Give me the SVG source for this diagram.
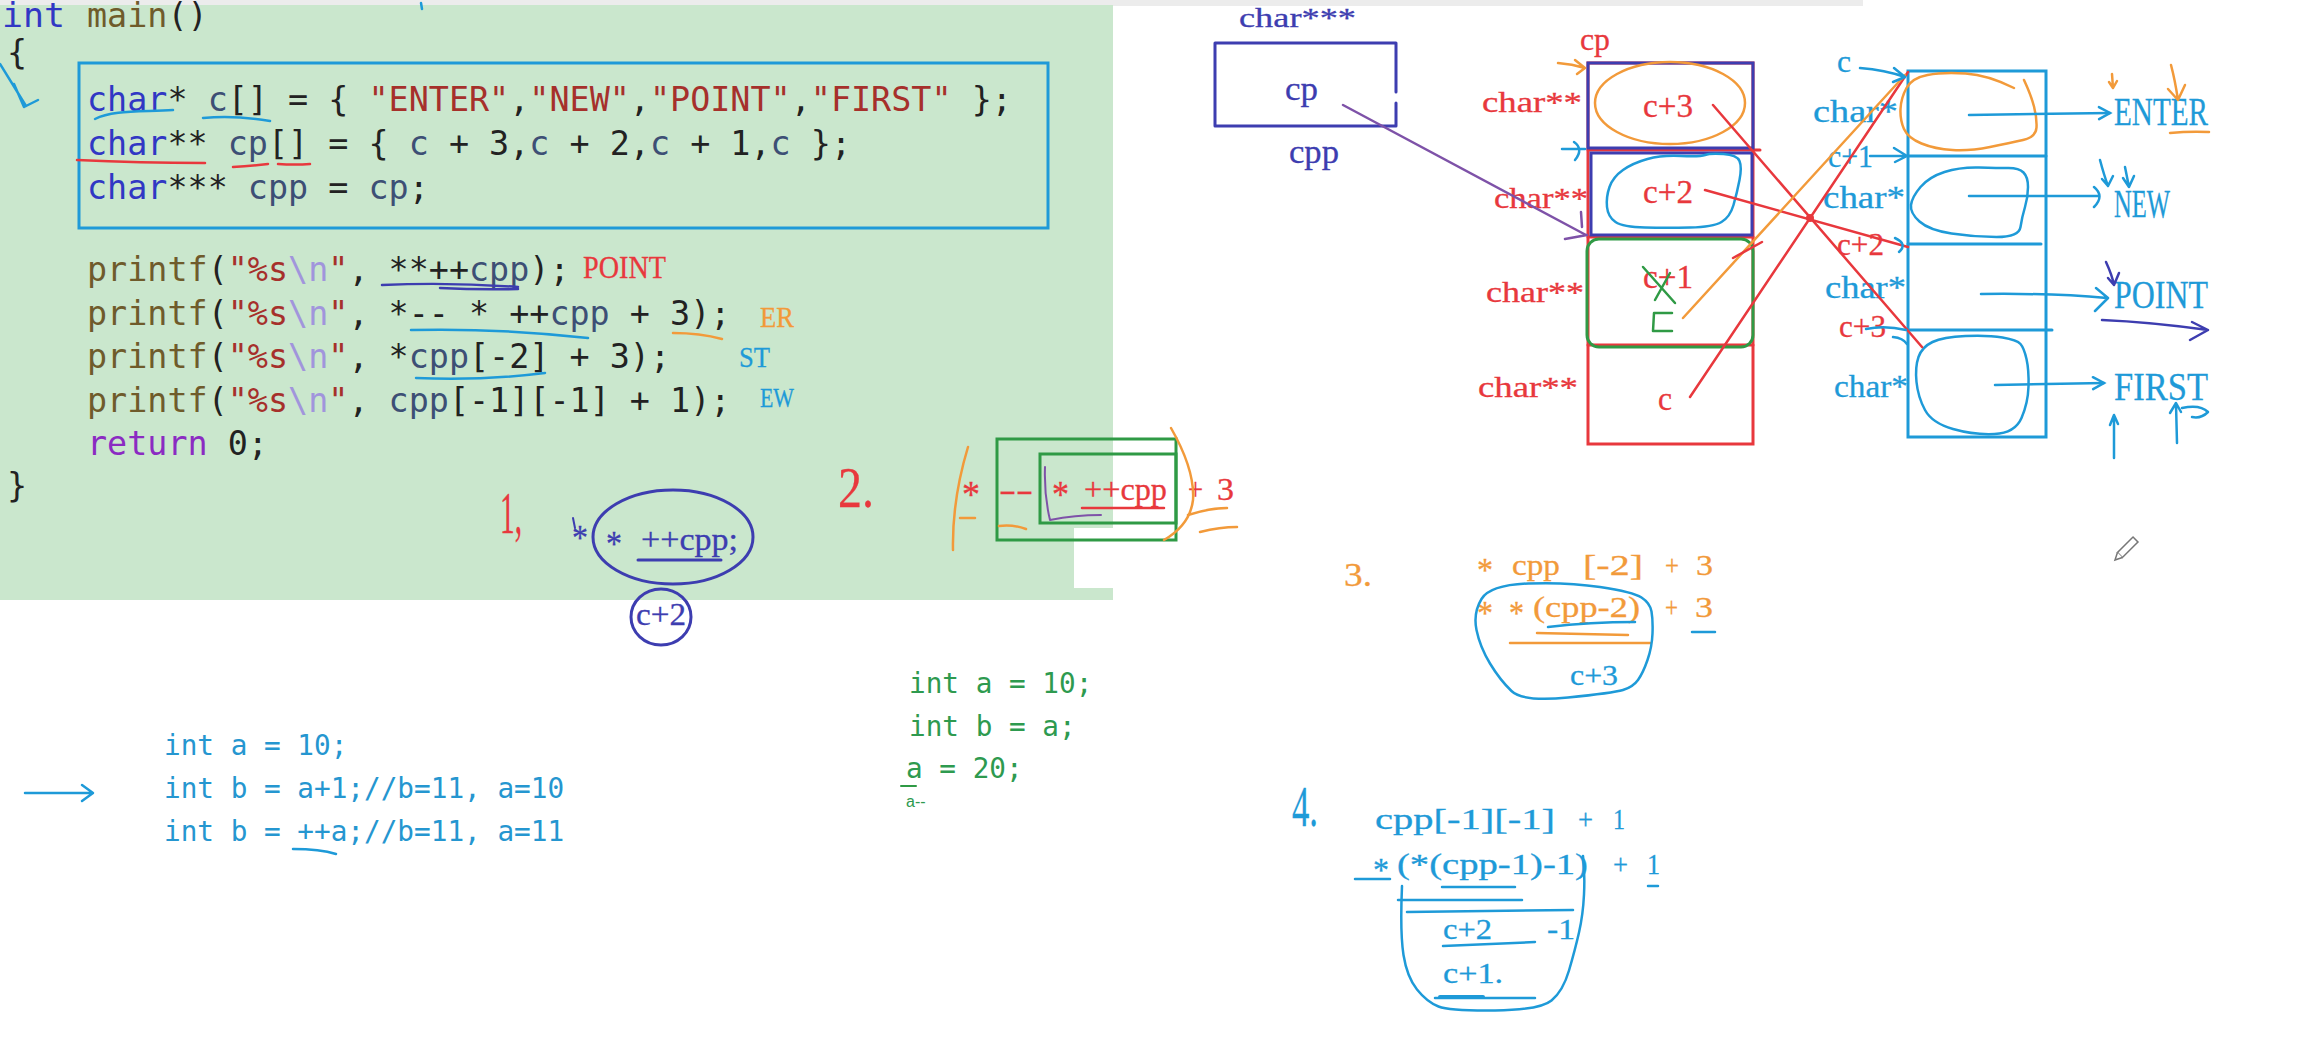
<svg xmlns="http://www.w3.org/2000/svg" width="2323" height="1042" viewBox="0 0 2323 1042">
<style>
.code{font-family:"DejaVu Sans Mono","Liberation Mono",monospace;font-size:33.4px;fill:#222}
.kw{fill:#3137c4}.fn{fill:#6f5b2b}.id{fill:#3d4f75}.st{fill:#a6302b}.esc{fill:#a195dc}.ret{fill:#8b2bc2}
.m2{font-family:"DejaVu Sans Mono","Liberation Mono",monospace;font-size:27.7px}
.hw{font-family:"Liberation Serif","Noto Sans CJK SC",serif;stroke-width:0.3px}
.ink{fill:none;stroke-linecap:round;stroke-linejoin:round}
.r{fill:#e8383d;stroke:#e8383d}.o{fill:#f29a3a;stroke:#f29a3a}.b{fill:#1e9ad8;stroke:#1e9ad8}.p{fill:#3d3db0;stroke:#3d3db0}.g{fill:#2e9a4f}
.sr{stroke:#e8383d}.so{stroke:#f29a3a}.sb{stroke:#1e9ad8}.sp{stroke:#3d3db0}.sg{stroke:#2f9a45}.sm{stroke:#7e52a8}
</style>
<defs>
<marker id="hb" markerUnits="userSpaceOnUse" markerWidth="18" markerHeight="18" refX="14" refY="8" orient="auto"><path d="M3,2 L14,8 L3,14" fill="none" stroke="#1e9ad8" stroke-width="2.5" stroke-linecap="round"/></marker>
</defs>
<rect width="2323" height="1042" fill="#ffffff"/>
<rect x="0" y="0" width="1863" height="6" fill="#ececec"/>
<g id="code-panel">
<rect x="0" y="5" width="1113" height="595" fill="#cae7cd"/>
<rect x="1074" y="528" width="39" height="60" fill="#ffffff"/>
<text class="code" x="2" y="27" textLength="63" lengthAdjust="spacingAndGlyphs"><tspan class="kw">int</tspan></text>
<text class="code" x="87" y="27" xml:space="preserve"><tspan class="fn">main</tspan>()</text>
<text class="code" x="7" y="64">{</text>
<rect x="79" y="63" width="969" height="165" fill="none" stroke="#1e9ad8" stroke-width="3"/>
<text class="code" x="87" y="111" xml:space="preserve"><tspan class="kw">char</tspan>* <tspan class="id">c</tspan>[] = { <tspan class="st">"ENTER"</tspan>,<tspan class="st">"NEW"</tspan>,<tspan class="st">"POINT"</tspan>,<tspan class="st">"FIRST"</tspan> };</text>
<text class="code" x="87" y="155" xml:space="preserve"><tspan class="kw">char</tspan>** <tspan class="id">cp</tspan>[] = { <tspan class="id">c</tspan> + 3,<tspan class="id">c</tspan> + 2,<tspan class="id">c</tspan> + 1,<tspan class="id">c</tspan> };</text>
<text class="code" x="87" y="199" xml:space="preserve"><tspan class="kw">char</tspan>*** <tspan class="id">cpp</tspan> = <tspan class="id">cp</tspan>;</text>
<text class="code" x="87" y="281" xml:space="preserve"><tspan class="fn">printf</tspan>(<tspan class="st">"%s</tspan><tspan class="esc">\n</tspan><tspan class="st">"</tspan>, **++<tspan class="id">cpp</tspan>);</text>
<text class="code" x="87" y="325" xml:space="preserve"><tspan class="fn">printf</tspan>(<tspan class="st">"%s</tspan><tspan class="esc">\n</tspan><tspan class="st">"</tspan>, *-- * ++<tspan class="id">cpp</tspan> + 3);</text>
<text class="code" x="87" y="368" xml:space="preserve"><tspan class="fn">printf</tspan>(<tspan class="st">"%s</tspan><tspan class="esc">\n</tspan><tspan class="st">"</tspan>, *<tspan class="id">cpp</tspan>[-2] + 3);</text>
<text class="code" x="87" y="412" xml:space="preserve"><tspan class="fn">printf</tspan>(<tspan class="st">"%s</tspan><tspan class="esc">\n</tspan><tspan class="st">"</tspan>, <tspan class="id">cpp</tspan>[-1][-1] + 1);</text>
<text class="code" x="87" y="455" xml:space="preserve"><tspan class="ret">return</tspan> 0;</text>
<text class="code" x="7" y="497">}</text>
<text class="hw r" x="583" y="278" font-size="31" textLength="83" lengthAdjust="spacingAndGlyphs">POINT</text>
<text class="hw o" x="760" y="327" font-size="30" textLength="34" lengthAdjust="spacingAndGlyphs">ER</text>
<text class="hw b" x="739" y="367" font-size="30" textLength="31" lengthAdjust="spacingAndGlyphs">ST</text>
<text class="hw b" x="760" y="407" font-size="27" textLength="34" lengthAdjust="spacingAndGlyphs">EW</text>
<g class="ink" stroke-width="2.5">
<path class="sb" d="M0,64 L26,106 M14,84 L24,107 L38,100"/>
<path class="sb" d="M421,3 L422,9"/>
<path class="sb" d="M95,119 C112,110 140,112 173,110"/>
<path class="sb" d="M203,118 Q235,115 270,121"/>
<path class="sr" d="M77,160 Q140,163 205,163"/>
<path class="sr" d="M233,167 Q250,166 268,164"/>
<path class="sr" d="M278,164 Q295,165 310,164"/>
<path class="sp" d="M382,285 Q450,282 518,287 M440,288 Q480,290 518,289"/>
<path class="sb" d="M411,330 Q500,328 588,338"/>
<path class="so" d="M673,333 Q700,333 722,339"/>
<path class="sb" d="M416,378 Q480,381 545,373"/>
</g>
</g>
<g id="note-1">
<text class="hw r" x="500" y="533" font-size="60" textLength="22" lengthAdjust="spacingAndGlyphs">1,</text>
<path class="ink sp" stroke-width="2" d="M573,518 L575,528"/>
<text class="hw p" x="572" y="550" font-size="36" textLength="16" lengthAdjust="spacingAndGlyphs">*</text>
<ellipse cx="673" cy="537" rx="80" ry="47" fill="none" stroke="#3d3db0" stroke-width="3"/>
<text class="hw p" x="606" y="556" font-size="36" textLength="16" lengthAdjust="spacingAndGlyphs">*</text>
<text class="hw p" x="641" y="550" font-size="31" textLength="97" lengthAdjust="spacingAndGlyphs">++cpp;</text>
<path class="ink sp" stroke-width="3" d="M638,560 L721,560"/>
<ellipse cx="661" cy="617" rx="30" ry="28" fill="none" stroke="#3d3db0" stroke-width="3"/>
<text class="hw p" x="636" y="625" font-size="31" textLength="50" lengthAdjust="spacingAndGlyphs">c+2</text>
</g>
<g id="note-2">
<text class="hw r" x="838" y="507" font-size="56" textLength="36" lengthAdjust="spacingAndGlyphs">2.</text>
<rect x="997" y="439" width="179" height="101" fill="none" stroke="#2f9a45" stroke-width="3"/>
<rect x="1040" y="454" width="136" height="69" fill="none" stroke="#2f9a45" stroke-width="3"/>
<text class="hw r" x="962" y="507" font-size="38" textLength="18" lengthAdjust="spacingAndGlyphs">*</text>
<text class="hw r" x="999" y="500" font-size="31" textLength="34" lengthAdjust="spacingAndGlyphs">--</text>
<text class="hw r" x="1052" y="507" font-size="38" textLength="17" lengthAdjust="spacingAndGlyphs">*</text>
<text class="hw r" x="1084" y="500" font-size="32" textLength="83" lengthAdjust="spacingAndGlyphs">++cpp</text>
<text class="hw r" x="1188" y="500" font-size="32" textLength="15" lengthAdjust="spacingAndGlyphs">+</text>
<text class="hw r" x="1217" y="500" font-size="32" textLength="17" lengthAdjust="spacingAndGlyphs">3</text>
<g class="ink" stroke-width="2.5">
<path class="sr" d="M1082,508 L1164,508"/>
<path class="so" d="M968,447 Q952,500 953,550"/>
<path class="so" d="M1171,428 Q1195,470 1193,500 Q1190,525 1164,540"/>
<path class="so" d="M960,518 L975,518 M999,526 Q1012,524 1026,529 M1188,515 Q1210,508 1227,508 M1200,532 Q1220,527 1237,527"/>
<path class="sm" stroke-width="2" d="M1045,467 Q1044,495 1050,520 Q1075,515 1101,515"/>
</g>
</g>
<g id="cpp-box">
<text class="hw p" x="1239" y="27" font-size="28" textLength="117" lengthAdjust="spacingAndGlyphs">char***</text>
<path class="ink sp" stroke-width="3" d="M1396,92 V43 H1215 V126 H1396 V103"/>
<text class="hw p" x="1285" y="100" font-size="34" textLength="33" lengthAdjust="spacingAndGlyphs">cp</text>
<text class="hw p" x="1289" y="163" font-size="34" textLength="50" lengthAdjust="spacingAndGlyphs">cpp</text>
</g>
<g id="cp-array">
<text class="hw r" x="1580" y="50" font-size="32" textLength="30" lengthAdjust="spacingAndGlyphs">cp</text>
<rect x="1588" y="63" width="165" height="381" fill="none" stroke="#e8383d" stroke-width="3"/>
<path class="ink sr" stroke-width="3" d="M1588,150 H1760 M1588,237 H1753 M1588,345 H1753"/>
<rect x="1588" y="63" width="165" height="85" fill="none" stroke="#3d3db0" stroke-width="3"/>
<rect x="1591" y="153" width="161" height="82" fill="none" stroke="#3d3db0" stroke-width="3"/>
<rect x="1587" y="239" width="166" height="108" rx="12" fill="none" stroke="#2f9a45" stroke-width="3"/>
<ellipse cx="1670" cy="103" rx="75" ry="41" fill="none" stroke="#f29a3a" stroke-width="2.5"/>
<path class="ink sb" stroke-width="2.5" d="M1705,155 Q1700,157 1681,156 Q1662,155 1647.5,159 Q1633,163 1623,170 Q1613,177 1609.5,187 Q1606,197 1607,207 Q1608,217 1615.5,222 Q1623,227 1645,227.5 Q1667,228 1690,227.5 Q1713,227 1721.5,222 Q1730,217 1733.5,205 Q1737,193 1739.5,180 Q1742,167 1739.5,161 Q1737,155 1723.5,154 Q1710,153 1705,155"/>
<text class="hw r" x="1482" y="112" font-size="29" textLength="100" lengthAdjust="spacingAndGlyphs">char**</text>
<text class="hw r" x="1494" y="208" font-size="29" textLength="94" lengthAdjust="spacingAndGlyphs">char**</text>
<text class="hw r" x="1486" y="302" font-size="29" textLength="98" lengthAdjust="spacingAndGlyphs">char**</text>
<text class="hw r" x="1478" y="397" font-size="29" textLength="100" lengthAdjust="spacingAndGlyphs">char**</text>
<text class="hw r" x="1643" y="117" font-size="33" textLength="50" lengthAdjust="spacingAndGlyphs">c+3</text>
<text class="hw r" x="1643" y="203" font-size="33" textLength="50" lengthAdjust="spacingAndGlyphs">c+2</text>
<text class="hw r" x="1643" y="288" font-size="33" textLength="50" lengthAdjust="spacingAndGlyphs">c+1</text>
<text class="hw r" x="1658" y="410" font-size="33" textLength="14" lengthAdjust="spacingAndGlyphs">c</text>
<g class="ink sg" stroke-width="2.5">
<path d="M1643,267 L1675,303 M1655,300 L1670,273"/>
<path d="M1672,313 L1654,313 L1653,331 L1672,331"/>
</g>
<g class="ink" stroke-width="2.5">
<path class="so" d="M1558,63 Q1572,64 1585,68 M1575,60 L1585,68 L1577,74"/>
<path class="sb" d="M1562,149 L1585,149 M1574,142 Q1584,149 1575,160"/>
</g>
</g>
<g id="c-array">
<rect x="1908" y="71" width="138" height="366" fill="none" stroke="#1e9ad8" stroke-width="3"/>
<path class="ink sb" stroke-width="3" d="M1908,156 H2046 M1908,244 H2041 M1908,330 H2052"/>
<path class="ink so" stroke-width="2.5" d="M2014,88 Q1988,75 1965.5,73.5 Q1943,72 1927.5,75 Q1912,78 1906.5,88 Q1901,98 1900.5,109 Q1900,120 1904,129 Q1908,138 1921.5,143.5 Q1935,149 1952.5,150 Q1970,151 1990,147 Q2010,143 2023,140 Q2036,137 2036.5,127.5 Q2037,118 2034,106.5 Q2031,95 2024,80"/>
<path class="ink sb" stroke-width="2.5" d="M2008.5,168 Q1998,168 1979,167.5 Q1960,167 1944.5,172 Q1929,177 1920.5,187 Q1912,197 1911,205 Q1910,213 1919.5,221.5 Q1929,230 1951.5,233.5 Q1974,237 1996.5,237 Q2019,237 2020.5,227 Q2022,217 2025,207 Q2028,197 2028,187 Q2028,177 2023.5,172.5 Q2019,168 2008.5,168"/>
<path class="ink sb" stroke-width="2.5" d="M2020.5,344 Q2017,340 2002.5,337.5 Q1988,335 1965.5,336 Q1943,337 1932.5,342 Q1922,347 1918.5,357 Q1915,367 1916.5,382 Q1918,397 1925,410 Q1932,423 1953,429 Q1974,435 1994.5,434 Q2015,433 2021.5,418 Q2028,403 2028.5,386.5 Q2029,370 2026.5,359 Q2024,348 2020.5,344"/>
<text class="hw b" x="1837" y="72" font-size="32" textLength="14" lengthAdjust="spacingAndGlyphs">c</text>
<text class="hw b" x="1813" y="122" font-size="31" textLength="85" lengthAdjust="spacingAndGlyphs">char*</text>
<text class="hw b" x="1828" y="167" font-size="31" textLength="45" lengthAdjust="spacingAndGlyphs">c+1</text>
<text class="hw b" x="1823" y="208" font-size="31" textLength="82" lengthAdjust="spacingAndGlyphs">char*</text>
<text class="hw r" x="1837" y="255" font-size="31" textLength="47" lengthAdjust="spacingAndGlyphs">c+2</text>
<text class="hw b" x="1825" y="298" font-size="31" textLength="81" lengthAdjust="spacingAndGlyphs">char*</text>
<text class="hw r" x="1839" y="337" font-size="31" textLength="47" lengthAdjust="spacingAndGlyphs">c+3</text>
<text class="hw b" x="1834" y="397" font-size="31" textLength="74" lengthAdjust="spacingAndGlyphs">char*</text>
</g>
<g id="strings">
<text class="hw b" x="2114" y="125" font-size="39" textLength="94" lengthAdjust="spacingAndGlyphs">ENTER</text>
<text class="hw b" x="2114" y="217" font-size="39" textLength="56" lengthAdjust="spacingAndGlyphs">NEW</text>
<text class="hw b" x="2114" y="308" font-size="39" textLength="94" lengthAdjust="spacingAndGlyphs">POINT</text>
<text class="hw b" x="2114" y="400" font-size="39" textLength="94" lengthAdjust="spacingAndGlyphs">FIRST</text>
<g class="ink" stroke-width="2.5">
<path class="so" d="M2170,133 Q2190,131 2209,132"/>
<path class="so" d="M2112,74 L2113,88 M2109,82 L2113,88 L2117,81"/>
<path class="so" d="M2171,65 Q2175,80 2178,100 M2168,89 L2178,100 L2185,85"/>
<path class="sb" d="M2100,160 Q2104,175 2108,186 M2102,179 L2108,186 L2113,176"/>
<path class="sb" d="M2125,167 L2129,187 M2123,178 L2129,187 L2134,176"/>
<path class="sp" d="M2106,262 Q2112,275 2114,285 M2108,278 L2114,285 L2119,273"/>
<path class="sb" d="M2114,458 L2114,416 M2110,425 L2114,415 L2118,424"/>
<path class="sb" d="M2177,443 L2176,404 M2170,413 L2176,403 L2181,412 M2182,408 Q2200,404 2208,412 Q2201,419 2192,417"/>
</g>
</g>
<g id="connectors" class="ink" stroke-width="2.5">
<path class="sm" d="M1343,105 L1586,235 M1565,239 L1587,235 M1581,212 L1582,227"/>
<path class="sr" d="M1713,105 L1922,347"/>
<path class="sr" d="M1705,190 L1908,247"/>
<path class="sr" d="M1690,397 L1908,72"/>
<path class="so" d="M1683,318 L1905,75"/>
<path class="sr" d="M1733,258 L1762,242"/>
<circle cx="1810" cy="218" r="4" fill="#e8383d" stroke="none"/>
<path class="sb" d="M1860,68 Q1885,70 1905,77 M1894,68 L1905,77 L1893,82"/>
<path class="sb" d="M1870,156 L1906,156 M1894,148 L1907,156 L1895,162"/>
<path class="sb" d="M1895,238 Q1908,244 1899,252"/>
<path class="sb" d="M1866,329 Q1885,325 1906,330 M1893,337 Q1903,338 1907,344"/>
<path class="sb" d="M1969,115 L2110,113" marker-end="url(#hb)"/>
<path class="sb" d="M1969,196 L2099,196 M2094,187 Q2105,196 2094,207"/>
<path class="sb" d="M1981,294 Q2050,293 2107,298 M2096,288 L2108,298 L2095,311"/>
<path class="sb" d="M1995,385 L2104,383" marker-end="url(#hb)"/>
<path class="sp" d="M2102,320 Q2150,322 2208,330 M2192,322 L2208,330 L2190,340"/>
</g>
<g id="note-3">
<text class="hw o" x="1344" y="586" font-size="34" textLength="28" lengthAdjust="spacingAndGlyphs">3.</text>
<g class="hw o" font-size="30">
<text x="1477" y="581" font-size="34" textLength="16" lengthAdjust="spacingAndGlyphs">*</text>
<text x="1512" y="575" textLength="48" lengthAdjust="spacingAndGlyphs">cpp</text>
<text x="1583" y="575" textLength="60" lengthAdjust="spacingAndGlyphs">[-2]</text>
<text x="1665" y="575" textLength="14" lengthAdjust="spacingAndGlyphs">+</text>
<text x="1696" y="575" textLength="17" lengthAdjust="spacingAndGlyphs">3</text>
<text x="1477" y="624" font-size="34" textLength="16" lengthAdjust="spacingAndGlyphs">*</text>
<text x="1509" y="624" font-size="34" textLength="15" lengthAdjust="spacingAndGlyphs">*</text>
<text x="1533" y="617" textLength="107" lengthAdjust="spacingAndGlyphs">(cpp-2)</text>
<text x="1665" y="617" textLength="13" lengthAdjust="spacingAndGlyphs">+</text>
<text x="1695" y="617" textLength="18" lengthAdjust="spacingAndGlyphs">3</text>
</g>
<text class="hw b" x="1570" y="685" font-size="30" textLength="48" lengthAdjust="spacingAndGlyphs">c+3</text>
<g class="ink" stroke-width="2.5">
<path class="sb" d="M1548,627 Q1590,622 1635,622"/>
<path class="so" d="M1537,633 L1628,635 M1510,643 L1650,643"/>
<path class="sb" d="M1692,632 L1715,632"/>
<path class="sb" d="M1528.5,583.5 Q1567,582 1600,587 Q1633,592 1641.5,597.5 Q1650,603 1651.5,611.5 Q1653,620 1652.5,633.5 Q1652,647 1647.5,660 Q1643,673 1638,680 Q1633,687 1623,690 Q1613,693 1568,697.5 Q1523,702 1511.5,691 Q1500,680 1490,663.5 Q1480,647 1476.5,630 Q1473,613 1481.5,599 Q1490,585 1528.5,583.5"/>
</g>
</g>
<g id="note-4">
<text class="hw b" x="1292" y="826" font-size="58" textLength="26" lengthAdjust="spacingAndGlyphs">4.</text>
<g class="hw b" font-size="30">
<text x="1375" y="829" textLength="180" lengthAdjust="spacingAndGlyphs">cpp[-1][-1]</text>
<text x="1578" y="829" textLength="15" lengthAdjust="spacingAndGlyphs">+</text>
<text x="1613" y="829" textLength="12" lengthAdjust="spacingAndGlyphs">1</text>
<text x="1373" y="881" font-size="34" textLength="16" lengthAdjust="spacingAndGlyphs">*</text>
<text x="1397" y="874" textLength="191" lengthAdjust="spacingAndGlyphs">(*(cpp-1)-1)</text>
<text x="1613" y="874" textLength="15" lengthAdjust="spacingAndGlyphs">+</text>
<text x="1647" y="874" textLength="13" lengthAdjust="spacingAndGlyphs">1</text>
<text x="1443" y="939" textLength="49" lengthAdjust="spacingAndGlyphs">c+2</text>
<text x="1547" y="939" textLength="28" lengthAdjust="spacingAndGlyphs">-1</text>
<text x="1443" y="983" textLength="60" lengthAdjust="spacingAndGlyphs">c+1.</text>
</g>
<g class="ink sb" stroke-width="2.5">
<path d="M1355,879 L1390,879 M1648,886 L1658,886 M1442,887 L1515,887 M1398,900 L1522,900 M1407,912 L1573,910 M1443,946 L1535,942 M1435,998 L1535,998"/>
<path stroke-width="4" d="M1440,997 L1483,997"/>
<path d="M1402,886 Q1400,933 1403.5,955 Q1407,977 1417,989.5 Q1427,1002 1438.5,1006.5 Q1450,1011 1495,1010.5 Q1540,1010 1551.5,1000.5 Q1563,991 1569,970.5 Q1575,950 1579,932.5 Q1583,915 1584,894.5 Q1585,874 1583,856"/>
</g>
</g>
<g id="note-ints">
<text class="m2" x="164" y="755" fill="#2596d0">int a = 10;</text>
<text class="m2" x="164" y="798" fill="#2596d0">int b = a+1;//b=11, a=10</text>
<text class="m2" x="164" y="841" fill="#2596d0">int b = ++a;//b=11, a=11</text>
<path class="ink sb" stroke-width="2.5" d="M293,849 Q320,849 336,854"/>
<path class="ink sb" stroke-width="2.5" d="M25,793 L92,793 M82,785 L93,793 L82,801"/>
<text class="m2 g" x="909" y="693">int a = 10;</text>
<text class="m2 g" x="909" y="736">int b = a;</text>
<text class="m2 g" x="906" y="778">a = 20;</text>
<path class="ink sg" stroke-width="2" d="M901,786 L916,786"/>
<text class="g" x="906" y="807" font-family="Liberation Sans, sans-serif" font-size="16">a--</text>
</g>
<g id="pencil" transform="translate(2127,548) rotate(-45)">
<rect x="-10" y="-3.5" width="22" height="7" fill="#fff" stroke="#777" stroke-width="1.5"/>
<path d="M-10,-3.5 L-17,0 L-10,3.5" fill="#fff" stroke="#777" stroke-width="1.5"/>
</g>
</svg>
